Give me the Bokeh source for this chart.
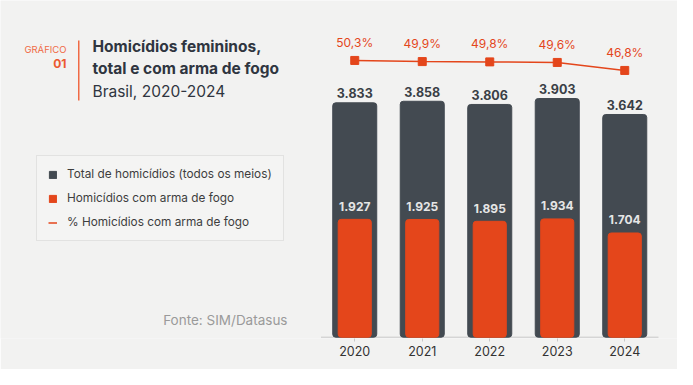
from bokeh.plotting import figure
from bokeh.models import (ColumnDataSource, Range1d, Label, Legend, LegendItem,
                          BoxAnnotation, FixedTicker)
from bokeh.core.properties import value
from bokeh.embed import file_html
from bokeh.resources import INLINE

# ---- data ----
years = ["2020", "2021", "2022", "2023", "2024"]
total = [3833, 3858, 3806, 3903, 3642]
firearm = [1927, 1925, 1895, 1934, 1704]
pct = [50.3, 49.9, 49.8, 49.6, 46.8]

total_lbl = ["3.833", "3.858", "3.806", "3.903", "3.642"]
firearm_lbl = ["1.927", "1.925", "1.895", "1.934", "1.704"]
pct_lbl = ["50,3%", "49,9%", "49,8%", "49,6%", "46,8%"]

legend_labels = ["Total de homicídios (todos os meios)",
                 "Homicídios com arma de fogo",
                 "% Homicídios com arma de fogo"]

DARK = "#434a51"
ORANGE = "#e4461b"
BG = "#f2f2f1"
FONT = "Inter"

xnum = [int(y) for y in years]
src = ColumnDataSource(dict(x=xnum, total=total, firearm=firearm, pct=pct,
                            total_lbl=total_lbl, firearm_lbl=firearm_lbl, pct_lbl=pct_lbl))

W, H = 677, 369
FB = 338  # frame bottom (px from top)

p = figure(width=W, height=H, output_backend="svg", toolbar_location=None,
           x_range=Range1d(2014.752, 2024.7815),
           y_range=Range1d(-21.3, 5506), y_axis_location=None,
           min_border_left=0, min_border_right=0, min_border_top=0, min_border_bottom=H - FB,
           background_fill_color=BG, border_fill_color=BG, outline_line_color=None)
p.extra_y_ranges = {"pct": Range1d(-47.1, 71.3)}
p.grid.visible = False

ax = p.xaxis[0]
ax.ticker = FixedTicker(ticks=xnum)
ax.major_label_overrides = {x: y for x, y in zip(xnum, years)}
ax.axis_line_color = None
ax.major_tick_line_color = "#c8c8c8"
ax.major_tick_out = 3
ax.major_tick_in = 0
ax.minor_tick_line_color = None
ax.major_label_text_font = FONT
ax.major_label_text_font_size = "12.5px"
ax.major_label_text_color = "#333333"
ax.major_label_standoff = 4

# baseline spanning the category bands
p.segment(x0=[xnum[0] - 0.5], x1=[xnum[-1] + 0.5], y0=[0], y1=[0],
          line_color="#c8c8c8", line_width=1)

r_total = p.vbar(x="x", top="total", width=0.652, source=src, color=DARK, border_radius=3)
r_fire = p.vbar(x="x", top="firearm", width=0.49, source=src, color=ORANGE, border_radius=3)
r_line = p.line(x="x", y="pct", source=src, color=ORANGE, line_width=1.5, y_range_name="pct")
p.scatter(x="x", y="pct", source=src, marker="square", size=8, color=ORANGE, y_range_name="pct")

p.text(x="x", y="total", text="total_lbl", source=src, text_align="center",
       text_baseline="middle", y_offset=-9.5, text_font=value(FONT), text_font_size="12.5px",
       text_font_style="bold", text_color="#3a3f46")
p.text(x="x", y="firearm", text="firearm_lbl", source=src, text_align="center",
       text_baseline="middle", y_offset=-13, text_font=value(FONT), text_font_size="12px",
       text_font_style="bold", text_color="#e6e6e6")
p.text(x="x", y="pct", text="pct_lbl", source=src, text_align="center",
       text_baseline="middle", y_offset=-18, text_font=value(FONT), text_font_size="12px",
       text_color=ORANGE, y_range_name="pct")

# screen helpers (relative to frame bottom-left), from picture coords
def sx(x):
    return x

def sy(y):
    return FB - y

def lab(text, x, y, size, color, style="normal", align="left"):
    p.add_layout(Label(x=sx(x), y=sy(y), x_units="screen", y_units="screen", text=text,
                       text_font=FONT, text_font_size=size, text_color=color,
                       text_font_style=style, text_align=align, text_baseline="middle"))

lab("GRÁFICO", 66, 49, "9.5px", "#f06a45", align="right")
lab("01", 66, 63, "12px", "#ec5a30", style="bold", align="right")
lab("Homicídios femininos,", 92, 46, "15.5px", "#2f3540", style="bold")
lab("total e com arma de fogo", 92, 68, "15.5px", "#2f3540", style="bold")
lab("Brasil, 2020-2024", 92, 91, "15.5px", "#2f3540")
lab("Fonte: SIM/Datasus", 287, 319, "13.5px", "#9a9a9a", align="right")

p.add_layout(BoxAnnotation(left=sx(77.5), right=sx(79), bottom=sy(100), top=sy(40),
                           left_units="screen", right_units="screen",
                           bottom_units="screen", top_units="screen",
                           fill_color="#f06a45", fill_alpha=1, line_color=None))

legend = Legend(items=[LegendItem(label=legend_labels[0], renderers=[r_total]),
                       LegendItem(label=legend_labels[1], renderers=[r_fire]),
                       LegendItem(label=legend_labels[2], renderers=[r_line])],
                location=(sx(36), sy(241)), orientation="vertical",
                glyph_width=9, glyph_height=9, label_height=14, label_standoff=10,
                spacing=10, padding=11, margin=0,
                label_text_font=FONT, label_text_font_size="11.8px", label_text_color="#3d3d3d",
                border_line_color="#cfcfcf", border_line_width=1,
                background_fill_color="#f4f4f3", background_fill_alpha=1)
p.add_layout(legend)

open("out.html", "w").write(file_html(p, INLINE))
